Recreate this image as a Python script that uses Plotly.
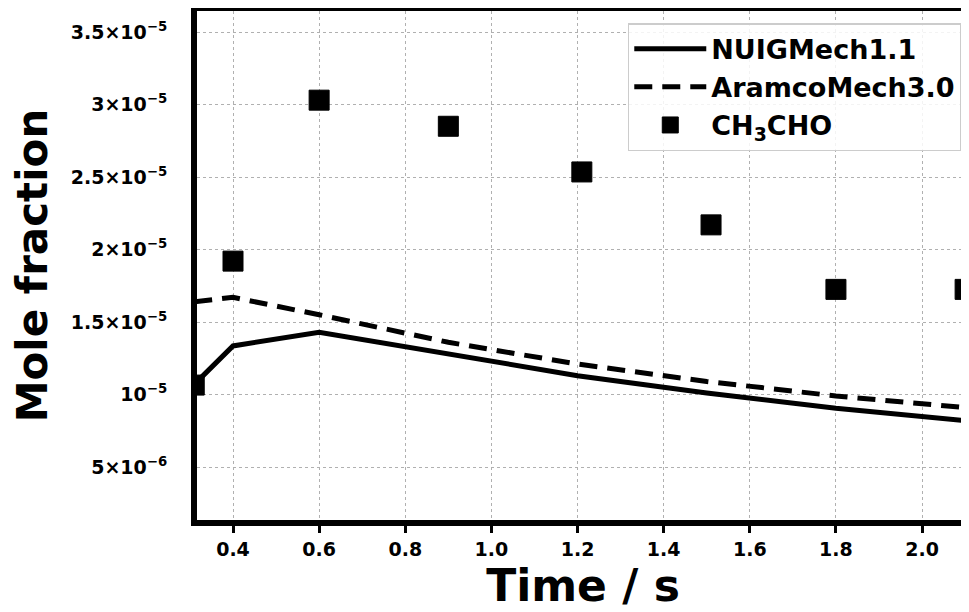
import plotly.graph_objects as go

# Data
time_model = [0.31, 0.4, 0.6, 0.9, 1.2, 1.5, 1.8, 2.1]
nuig = [1.07e-5, 1.335e-5, 1.43e-5, 1.28e-5, 1.13e-5, 1.01e-5, 0.905e-5, 0.82e-5]
aramco = [1.64e-5, 1.67e-5, 1.55e-5, 1.36e-5, 1.21e-5, 1.09e-5, 0.99e-5, 0.91e-5]
time_exp = [0.31, 0.4, 0.6, 0.9, 1.21, 1.51, 1.8, 2.1]
ch3cho = [1.065e-5, 1.92e-5, 3.03e-5, 2.85e-5, 2.535e-5, 2.17e-5, 1.725e-5, 1.725e-5]

x_ticks = [0.4, 0.6, 0.8, 1.0, 1.2, 1.4, 1.6, 1.8, 2.0]
x_ticktext = ["0.4", "0.6", "0.8", "1.0", "1.2", "1.4", "1.6", "1.8", "2.0"]
y_ticks = [5e-6, 1e-5, 1.5e-5, 2e-5, 2.5e-5, 3e-5, 3.5e-5]
y_ticktext = ["5×10<sup>−6</sup>", "10<sup>−5</sup>", "1.5×10<sup>−5</sup>", "2×10<sup>−5</sup>",
              "2.5×10<sup>−5</sup>", "3×10<sup>−5</sup>", "3.5×10<sup>−5</sup>"]

FONT = "DejaVu Sans"

fig = go.Figure()
fig.add_trace(go.Scatter(x=time_model, y=nuig, mode="lines", name="NUIGMech1.1",
                         legendgroup="a",
                         line=dict(color="black", width=5)))
fig.add_trace(go.Scatter(x=time_model, y=aramco, mode="lines", name="AramcoMech3.0",
                         legendgroup="b",
                         line=dict(color="black", width=5, dash="18px,10px")))
fig.add_trace(go.Scatter(x=time_exp, y=ch3cho, mode="markers", name="CH<sub>3</sub>CHO",
                         legendgroup="c",
                         marker=dict(symbol="square", size=20, color="black",
                                     line=dict(color="black", width=1))))

# The page body adds an 8px offset, so the figure is sized/margined to compensate.
fig.update_layout(
    width=961, height=604,
    margin=dict(l=189, r=0, t=3, b=92, autoexpand=False),
    paper_bgcolor="white", plot_bgcolor="white",
    font=dict(family=FONT, color="black", weight="bold"),
    showlegend=True,
    legend=dict(x=0.558, y=0.976, xanchor="left", yanchor="top",
                bgcolor="rgba(255,255,255,0.85)", bordercolor="#cccccc", borderwidth=1.5,
                font=dict(family=FONT, size=27, color="black", weight="bold"),
                itemwidth=72, tracegroupgap=0),
)
fig.update_xaxes(
    range=[0.3164, 2.109], tickvals=x_ticks, ticktext=x_ticktext,
    automargin=False,
    showline=True, linecolor="black", linewidth=6, mirror=True,
    ticks="outside", ticklen=7, tickwidth=3, tickcolor="black",
    showgrid=True, gridcolor="#b0b0b0", gridwidth=1, griddash="dot",
    zeroline=False,
    tickfont=dict(family=FONT, size=19, color="black", weight="bold"),
    title=dict(text="Time / s", font=dict(family=FONT, size=44, color="black", weight="bold"),
               standoff=4),
)
fig.update_yaxes(
    range=[1.345e-6, 3.645e-5], tickvals=y_ticks, ticktext=y_ticktext,
    automargin=False,
    showline=True, linecolor="black", linewidth=6, mirror=False,
    ticks="outside", ticklen=10, tickcolor="rgba(0,0,0,0)",
    ticklabelstandoff=10,
    showgrid=True, gridcolor="#b0b0b0", gridwidth=1, griddash="dot",
    zeroline=False,
    tickfont=dict(family=FONT, size=19, color="black", weight="bold"),
    title=dict(text="Mole fraction", font=dict(family=FONT, size=42, color="black", weight="bold"),
               standoff=18),
)

fig.write_html("out.html")
